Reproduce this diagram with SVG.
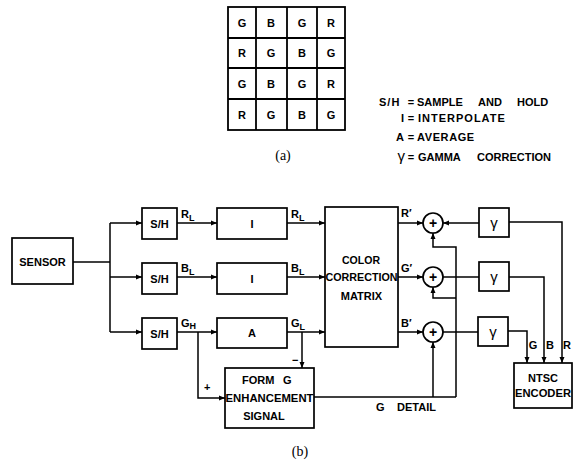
<svg xmlns="http://www.w3.org/2000/svg" width="583" height="462" viewBox="0 0 583 462">
<style>
text{font-family:"Liberation Sans",Arial,sans-serif;font-size:11px;font-weight:bold;fill:#000}
.c{text-anchor:middle}
.e{text-anchor:end}
.serif{font-family:"Liberation Serif","Times New Roman",serif;font-size:14px;font-weight:normal}
.box{fill:#fff;stroke:#000;stroke-width:1.7}
.ln{fill:none;stroke:#000;stroke-width:1.5}
.g{fill:none;stroke:#000;stroke-width:1.8}
.gm{font-size:15px;font-weight:normal}
.pl{font-size:14px}
</style>
<defs>
<marker id="ar" markerUnits="userSpaceOnUse" markerWidth="7" markerHeight="6" refX="6" refY="3" orient="auto">
<path d="M0,0.5 L6,3 L0,5.5 Z" fill="#000"/>
</marker>
</defs>

<g id="mosaic">
<rect x="228" y="7" width="117" height="123" class="g"/>
<path d="M256,7V130M287,7V130M317,7V130M228,38H345M228,68H345M228,99H345" class="g"/>
<g class="c">
<text x="242" y="27">G</text><text x="271" y="27">B</text><text x="302" y="27">G</text><text x="331" y="27">R</text>
<text x="242" y="57">R</text><text x="271" y="57">G</text><text x="302" y="57">B</text><text x="331" y="57">G</text>
<text x="242" y="88">G</text><text x="271" y="88">B</text><text x="302" y="88">G</text><text x="331" y="88">R</text>
<text x="242" y="119">R</text><text x="271" y="119">G</text><text x="302" y="119">B</text><text x="331" y="119">G</text>
</g>
<text x="283" y="160" class="c serif">(a)</text>
</g>

<g id="legend">
<text x="379" y="106" letter-spacing="1">S/H</text><text x="411" y="106" class="c">=</text>
<text y="106"><tspan x="417">SAMPLE</tspan><tspan x="478">AND</tspan><tspan x="517">HOLD</tspan></text>
<text x="404" y="122" class="e">I</text><text x="411" y="122" class="c">=</text>
<text x="418" y="122" letter-spacing="1">INTERPOLATE</text>
<text x="404" y="141" class="e">A</text><text x="411" y="141" class="c">=</text>
<text x="417" y="141" letter-spacing="0.6">AVERAGE</text>
<text x="405" y="161" class="e gm">γ</text><text x="411" y="161" class="c">=</text>
<text y="161"><tspan x="418">GAMMA</tspan><tspan x="477">CORRECTION</tspan></text>
</g>

<g id="connectors">
<path class="ln" d="M73,262H110"/>
<path class="ln" d="M110,223V332"/>
<path class="ln" d="M110,223H142" marker-end="url(#ar)"/>
<path class="ln" d="M110,277H142" marker-end="url(#ar)"/>
<path class="ln" d="M110,332H142" marker-end="url(#ar)"/>
<path class="ln" d="M177,223H217" marker-end="url(#ar)"/>
<path class="ln" d="M177,277H217" marker-end="url(#ar)"/>
<path class="ln" d="M177,332H217" marker-end="url(#ar)"/>
<path class="ln" d="M287,223H325" marker-end="url(#ar)"/>
<path class="ln" d="M287,277H325" marker-end="url(#ar)"/>
<path class="ln" d="M287,332H325" marker-end="url(#ar)"/>
<path class="ln" d="M398,223H423" marker-end="url(#ar)"/>
<path class="ln" d="M398,277H423" marker-end="url(#ar)"/>
<path class="ln" d="M398,332H423" marker-end="url(#ar)"/>
<path class="ln" d="M479,223H443" marker-end="url(#ar)"/>
<path class="ln" d="M443,277H479"/>
<path class="ln" d="M443,332H478"/>
<path class="ln" d="M456,397V247H433V233" marker-end="url(#ar)"/>
<path class="ln" d="M456,298H433V287" marker-end="url(#ar)"/>
<path class="ln" d="M433,397V342" marker-end="url(#ar)"/>
<path class="ln" d="M314,397H456"/>
<path class="ln" d="M302,332V368" marker-end="url(#ar)"/>
<path class="ln" d="M198,332V398H225" marker-end="url(#ar)"/>
<path class="ln" d="M509,222H562V363" marker-end="url(#ar)"/>
<path class="ln" d="M509,277H544V363" marker-end="url(#ar)"/>
<path class="ln" d="M508,331H527V363" marker-end="url(#ar)"/>
</g>

<g id="labels">
<text x="181" y="218">R<tspan font-size="9" dy="3">L</tspan></text>
<text x="181" y="272">B<tspan font-size="9" dy="3">L</tspan></text>
<text x="181" y="327">G<tspan font-size="9" dy="2">H</tspan></text>
<text x="291" y="218">R<tspan font-size="9" dy="3">L</tspan></text>
<text x="291" y="272">B<tspan font-size="9" dy="3">L</tspan></text>
<text x="291" y="327">G<tspan font-size="9" dy="3">L</tspan></text>
<text x="401" y="217">R′</text>
<text x="401" y="272">G′</text>
<text x="401" y="327">B′</text>
<text x="292" y="364">−</text>
<text x="204" y="391">+</text>
<text y="411"><tspan x="376">G</tspan><tspan x="397">DETAIL</tspan></text>
<text x="533" y="349" class="c">G</text>
<text x="550" y="349" class="c">B</text>
<text x="567" y="349" class="c">R</text>
</g>

<g id="sensor"><rect x="12" y="238" width="61" height="46" class="box"/><text x="42.5" y="266" class="c">SENSOR</text></g>
<g id="sh-r"><rect x="142" y="208" width="35" height="31" class="box"/><text x="159.5" y="228" class="c" font-size="12">S/H</text></g>
<g id="sh-b"><rect x="142" y="263" width="35" height="31" class="box"/><text x="159.5" y="283" class="c" font-size="12">S/H</text></g>
<g id="sh-g"><rect x="142" y="318" width="35" height="31" class="box"/><text x="159.5" y="338" class="c" font-size="12">S/H</text></g>
<g id="interp-r"><rect x="217" y="208" width="70" height="31" class="box"/><text x="252" y="228" class="c" font-size="12">I</text></g>
<g id="interp-b"><rect x="217" y="263" width="70" height="31" class="box"/><text x="252" y="283" class="c" font-size="12">I</text></g>
<g id="average"><rect x="217" y="318" width="70" height="30" class="box"/><text x="252" y="337" class="c" font-size="12">A</text></g>
<g id="matrix"><rect x="325" y="207" width="73" height="140" class="box"/>
<text x="361" y="264" class="c" textLength="38" lengthAdjust="spacingAndGlyphs">COLOR</text>
<text x="361.5" y="281" class="c" textLength="72" lengthAdjust="spacingAndGlyphs">CORRECTION</text>
<text x="361.5" y="300" class="c">MATRIX</text></g>
<g id="sum-r"><circle cx="433" cy="223" r="10" class="box"/><text x="433" y="228" class="c pl">+</text></g>
<g id="sum-g"><circle cx="433" cy="277" r="10" class="box"/><text x="433" y="282" class="c pl">+</text></g>
<g id="sum-b"><circle cx="433" cy="332" r="10" class="box"/><text x="433" y="337" class="c pl">+</text></g>
<g id="gamma-r"><rect x="479" y="208" width="30" height="29" class="box"/><text x="494" y="228" class="c gm">γ</text></g>
<g id="gamma-g"><rect x="479" y="262" width="30" height="29" class="box"/><text x="494" y="282" class="c gm">γ</text></g>
<g id="gamma-b"><rect x="478" y="317" width="30" height="29" class="box"/><text x="493" y="337" class="c gm">γ</text></g>
<g id="form-g"><rect x="225" y="368" width="89" height="60" class="box"/>
<text y="384"><tspan x="242">FORM</tspan><tspan x="283">G</tspan></text>
<text x="269.5" y="402" class="c" textLength="88" lengthAdjust="spacingAndGlyphs">ENHANCEMENT</text>
<text x="264" y="420" class="c">SIGNAL</text></g>
<g id="ntsc"><rect x="514" y="363" width="58" height="45" class="box"/>
<text x="543" y="382" class="c">NTSC</text>
<text x="543" y="397" class="c" textLength="56" lengthAdjust="spacingAndGlyphs">ENCODER</text></g>
<text x="300" y="456" class="c serif">(b)</text>
</svg>
